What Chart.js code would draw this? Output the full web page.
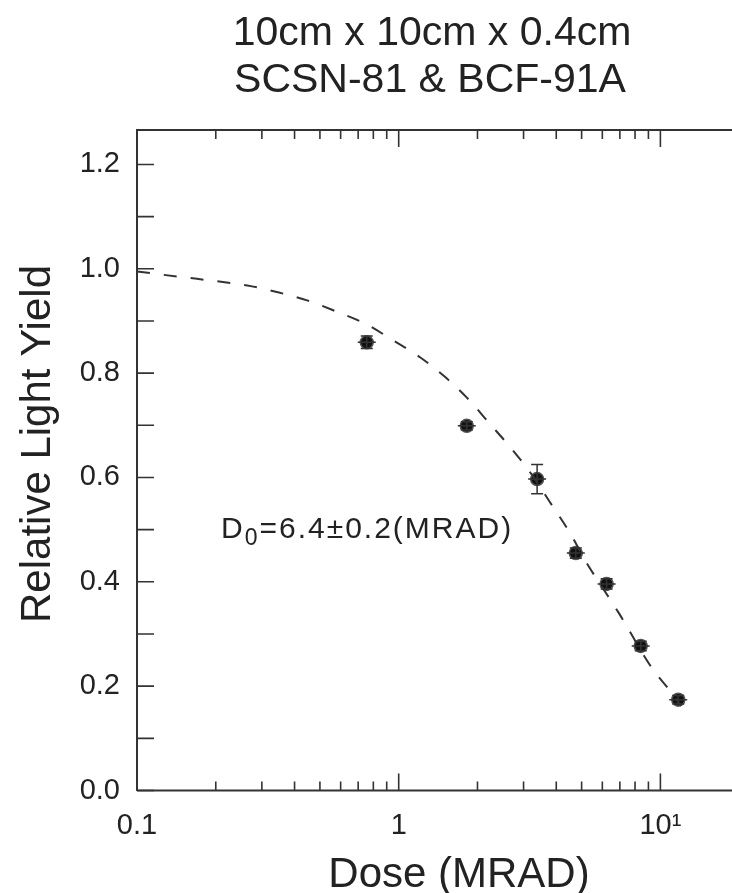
<!DOCTYPE html>
<html>
<head>
<meta charset="utf-8">
<script src="https://cdn.jsdelivr.net/npm/chart.js@4.4.0/dist/chart.umd.min.js"></script>
<style>
  html, body { margin: 0; padding: 0; background: #fff; overflow: hidden; }
</style>
</head>
<body>
<canvas id="myChart" width="732" height="893"></canvas>
<script>
var titleLines = ["10cm x 10cm x 0.4cm", "SCSN-81 & BCF-91A"];
var xTitle = "Dose (MRAD)";
var yTitle = "Relative Light Yield";
var noteParts = ["D", "0", "=6.4\u00b10.2(MRAD)"];

// measured points
var doseValues = [0.755, 1.82, 3.38, 4.75, 6.23, 8.41, 11.7];
var yieldValues = [0.859, 0.699, 0.597, 0.455, 0.396, 0.277, 0.174];
var yieldErrors = [0.012, 0.008, 0.028, 0.010, 0.010, 0.009, 0.008];

// dashed fit curve
var fitDose = [0.1, 0.119, 0.155, 0.202, 0.264, 0.345, 0.45, 0.578, 0.75, 0.957, 1.21, 1.51, 1.83, 2.22, 2.69, 3.22, 3.78, 4.52, 5.16, 6.94, 9.33, 11.1, 12.0];
var fitYield = [0.995, 0.990, 0.983, 0.976, 0.968, 0.955, 0.939, 0.918, 0.894, 0.862, 0.830, 0.792, 0.752, 0.704, 0.656, 0.606, 0.553, 0.493, 0.441, 0.340, 0.233, 0.186, 0.162];

// ticks
var xLabelTicks = [0.1, 1, 10];
var xTickText = ["0.1", "1", "10\u00b9"];
var xMajorTicks = [1, 10];
var xMinorTicks = [0.2, 0.3, 0.4, 0.5, 0.6, 0.7, 0.8, 0.9, 2, 3, 4, 5, 6, 7, 8, 9];
var yLabelTicks = [0, 0.2, 0.4, 0.6, 0.8, 1.0, 1.2];
var yTickText = ["0.0", "0.2", "0.4", "0.6", "0.8", "1.0", "1.2"];
var yMinorTicks = [0.1, 0.3, 0.5, 0.7, 0.9, 1.1];

var fontFam = '"Liberation Sans", Arial, sans-serif';
var ink = "#222";
var lineInk = "#333";

var framePlugin = {
  id: "frame",
  afterDatasetsDraw(chart) {
    var ctx = chart.ctx;
    var xs = chart.scales.x, ys = chart.scales.y;
    var area = chart.chartArea;
    ctx.save();
    ctx.strokeStyle = lineInk;

    // error bars
    for (var i = 0; i < doseValues.length; i++) {
      var px = xs.getPixelForValue(doseValues[i]);
      var py = ys.getPixelForValue(yieldValues[i]);
      var top = ys.getPixelForValue(yieldValues[i] + yieldErrors[i]);
      var bot = ys.getPixelForValue(yieldValues[i] - yieldErrors[i]);
      ctx.lineWidth = 1.5;
      ctx.beginPath();
      ctx.moveTo(px, top); ctx.lineTo(px, bot);
      ctx.moveTo(px - 6, top); ctx.lineTo(px + 6, top);
      ctx.moveTo(px - 6, bot); ctx.lineTo(px + 6, bot);
      ctx.moveTo(px - 9, py); ctx.lineTo(px + 9, py);
      ctx.stroke();
    }

    // top and bottom frame lines, carried to the canvas edge
    ctx.lineWidth = 2;
    ctx.beginPath();
    ctx.moveTo(area.left, area.top);
    ctx.lineTo(chart.width, area.top);
    ctx.moveTo(area.left, area.bottom);
    ctx.lineTo(chart.width, area.bottom);
    ctx.stroke();

    // x ticks on bottom and top, pointing inwards
    ctx.lineWidth = 1.6;
    ctx.beginPath();
    xMajorTicks.forEach(function (v) {
      var p = xs.getPixelForValue(v);
      ctx.moveTo(p, area.bottom); ctx.lineTo(p, area.bottom - 17);
      ctx.moveTo(p, area.top); ctx.lineTo(p, area.top + 17);
    });
    xMinorTicks.forEach(function (v) {
      var p = xs.getPixelForValue(v);
      ctx.moveTo(p, area.bottom); ctx.lineTo(p, area.bottom - 9);
      ctx.moveTo(p, area.top); ctx.lineTo(p, area.top + 9);
    });
    // y ticks on left
    yLabelTicks.concat(yMinorTicks).forEach(function (v) {
      var p = ys.getPixelForValue(v);
      ctx.moveTo(area.left, p); ctx.lineTo(area.left + 17, p);
    });
    ctx.stroke();

    // titles
    ctx.fillStyle = ink;
    ctx.textAlign = "center";
    ctx.textBaseline = "alphabetic";
    ctx.font = "41px " + fontFam;
    ctx.fillText(titleLines[0], 432, 45);
    ctx.fillText(titleLines[1], 430, 92);

    ctx.font = "42px " + fontFam;
    ctx.fillText(xTitle, 459, 887);

    ctx.save();
    ctx.translate(50, 444);
    ctx.rotate(-Math.PI / 2);
    ctx.fillText(yTitle, 0, 0);
    ctx.restore();

    // annotation D0 = ...
    ctx.textAlign = "left";
    ctx.letterSpacing = "2px";
    var nx = 221, ny = 538;
    ctx.font = "30px " + fontFam;
    ctx.fillText(noteParts[0], nx, ny);
    nx += ctx.measureText(noteParts[0]).width;
    ctx.font = "23px " + fontFam;
    ctx.fillText(noteParts[1], nx, ny + 7);
    nx += ctx.measureText(noteParts[1]).width;
    ctx.font = "30px " + fontFam;
    ctx.fillText(noteParts[2], nx, ny);
    ctx.restore();
  }
};

new Chart("myChart", {
  type: "scatter",
  data: {
    datasets: [{
      label: "fit",
      type: "line",
      data: fitDose.map(function (d, i) { return { x: d, y: fitYield[i] }; }),
      borderColor: lineInk,
      borderWidth: 2,
      borderDash: [13, 14],
      pointRadius: 0,
      cubicInterpolationMode: "monotone",
      fill: false
    }, {
      label: "data",
      data: doseValues.map(function (d, i) { return { x: d, y: yieldValues[i] }; }),
      backgroundColor: "#111",
      borderColor: "#555",
      borderWidth: 1.5,
      pointRadius: 6.5,
      pointStyle: "circle"
    }]
  },
  options: {
    responsive: false,
    animation: false,
    layout: { padding: { top: 130, left: 0, right: 0, bottom: 0 } },
    plugins: {
      legend: { display: false },
      tooltip: { enabled: false },
      title: { display: false }
    },
    scales: {
      x: {
        type: "logarithmic",
        min: 0.1,
        max: 17.5,
        grid: { display: false },
        border: { display: false },
        ticks: {
          padding: 10,
          color: ink,
          font: { size: 29, family: fontFam },
          autoSkip: false,
          maxRotation: 0,
          callback: function (v, i) { return xTickText[i]; }
        },
        afterBuildTicks: function (s) { s.ticks = xLabelTicks.map(function (v) { return { value: v }; }); },
        afterFit: function (s) { s.height = 102.5; }
      },
      y: {
        min: 0,
        max: 1.266,
        grid: { drawOnChartArea: false, drawTicks: false },
        border: { display: true, color: lineInk, width: 2 },
        ticks: {
          padding: 17,
          color: ink,
          font: { size: 29, family: fontFam },
          callback: function (v, i) { return yTickText[i]; }
        },
        afterBuildTicks: function (s) { s.ticks = yLabelTicks.map(function (v) { return { value: v }; }); },
        afterFit: function (s) { s.width = 137; }
      }
    }
  },
  plugins: [framePlugin]
});
</script>
</body>
</html>
